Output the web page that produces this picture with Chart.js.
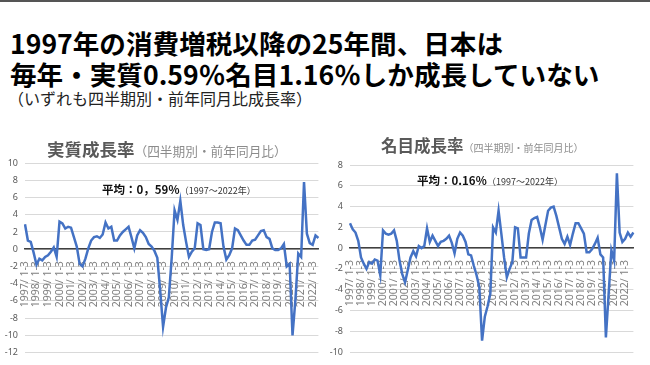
<!DOCTYPE html>
<html>
<head>
<meta charset="utf-8">
<script src="https://cdn.jsdelivr.net/npm/chart.js@4.4.0/dist/chart.umd.min.js"></script>
<style>
  body { margin: 0; width: 650px; height: 365px; background: #fff; position: relative; overflow: hidden;
         font-family: "Noto Sans CJK JP", "Noto Sans", sans-serif; }
  .topline { position: absolute; left: 0; top: 0; width: 650px; height: 2px; background: #555; }
  .headline { position: absolute; left: 10px; top: 27px; font-size: 26.6px; font-weight: bold; line-height: 31px; color: #000; white-space: nowrap; }
  .sub { position: absolute; left: 8px; top: 89px; font-size: 16px; line-height: 19px; color: #222; white-space: nowrap; }
  .ctitle { position: absolute; white-space: nowrap; color: #595959; font-weight: bold; z-index: 2; }
  .ctitle span { font-weight: normal; color: #8c8c8c; }
  .note { position: absolute; white-space: nowrap; color: #111; font-weight: bold; font-size: 11.5px; z-index: 2; }
  .note span { font-weight: normal; font-size: 9px; color: #333; }
  .box { position: absolute; }
</style>
</head>
<body>
<div class="topline"></div>
<div class="headline">1997年の消費増税以降の25年間、日本は<br>毎年・実質0.59％名目1.16％しか成長していない</div>
<div class="sub">（いずれも四半期別・前年同月比成長率）</div>

<div class="ctitle" style="left:47px; top:136px; font-size:17.5px;">実質成長率<span style="font-size:12.7px;">（四半期別・前年同月比）</span></div>
<div class="ctitle" style="left:381px; top:133px; font-size:16.5px;">名目成長率<span style="font-size:10px;">（四半期別・前年同月比）</span></div>

<div class="note" style="left:102px; top:181px;">平均：0，59％<span>（1997～2022年）</span></div>
<div class="note" style="left:417px; top:172px;">平均：0.16％<span>（1997～2022年）</span></div>

<div class="box" style="left:0; top:150px;"><canvas id="real" width="335" height="215"></canvas></div>
<div class="box" style="left:325px; top:150px;"><canvas id="nominal" width="325" height="215"></canvas></div>

<script>
const years = [1997, 1998, 1999, 2000, 2001, 2002, 2003, 2004, 2005, 2006, 2007, 2008, 2009,
  2010, 2011, 2012, 2013, 2014, 2015, 2016, 2017, 2018, 2019, 2020, 2021, 2022];
const quarters = ["1-3", "4-6", "7-9", "10-12"];

// 実質成長率 (1997/1-3 .. 2022/7-9)
const realGrowth = [
  2.9, 1.0, 0.85, -0.4,
  -1.8, -1.1, -1.3, -0.9,
  -0.7, -0.3, 0.2, -0.9,
  3.2, 3.0, 2.4, 2.6,
  2.5, 1.4, 0.3, -1.7,
  -2.0, -1.1, 0.1, 1.0,
  1.4, 1.5, 1.3, 1.7,
  3.1, 2.4, 2.6, 1.0,
  1.0, 1.6, 2.0, 2.3,
  2.6, 1.4, 0.1, 1.6,
  2.2, 1.9, 1.4, 0.6,
  0.3, -0.2, -1.0, -4.8,
  -9.0, -6.8, -5.6, -1.0,
  4.5, 3.4, 5.6, 2.8,
  0.85, -0.9, -0.3, 0.1,
  3.0, 2.8, 0.0, -0.1,
  0.0, 2.0, 3.1, 3.1,
  3.0, 0.3, -1.2, -0.7,
  0.1, 2.4, 2.2, 1.6,
  1.0, 0.5, 0.5, 1.0,
  1.1, 1.6, 2.1, 2.2,
  1.4, 1.2, 0.1, -0.1,
  -0.1, 0.1, 0.6, -2.0,
  -1.7, -10.0, -5.9, -0.5,
  -0.9, 7.8, 1.8, 0.7,
  0.5, 1.6, 1.3
];

// 名目成長率 (1997/1-3 .. 2022/10-12)
const nominalGrowth = [
  2.4, 1.8, 1.5, 0.7,
  -0.9, -1.5, -2.0, -1.35,
  -1.5, -1.1, -1.2, -2.6,
  1.7, 1.4, 1.3, 1.4,
  1.7, 0.7, -1.2, -2.5,
  -3.3, -2.1, -0.9, -0.3,
  -0.8, 0.2, 0.0, 0.2,
  1.9, 0.6, 1.2, 0.7,
  0.2, 0.6, 0.7, 0.9,
  1.2, 0.5, -0.5, 0.9,
  1.5, 1.2, 0.6, -0.6,
  -0.7, -1.7, -2.6, -3.75,
  -8.9, -6.6, -5.6, -4.4,
  2.0, 1.5, 3.6, 1.4,
  -0.9, -2.8, -2.0, -1.35,
  2.0, 1.9, -0.9, -0.9,
  -0.9, 1.4, 2.7, 2.9,
  3.0, 2.0, 0.8, 2.2,
  3.6, 3.9, 4.0, 3.1,
  2.0, 0.9, 0.4, 1.1,
  0.3, 1.4, 2.4, 2.4,
  1.9, 1.4, -0.4, -0.4,
  -0.1, 0.4, 1.0, -0.6,
  -0.9, -8.6, -4.4, -0.2,
  -1.2, 7.2, 1.5, 0.6,
  0.9, 1.5, 1.1, 1.5
];

const labels = [];
years.forEach(y => quarters.forEach(q => labels.push(y + "/ " + q)));

function options(yMin, yMax, pad) {
  return {
    responsive: false,
    animation: false,
    layout: { padding: pad },
    plugins: { legend: { display: false }, tooltip: { enabled: false } },
    scales: {
      x: {
        type: "category",
        offset: false,
        position: { y: 0 },
        grid: { display: false },
        border: { display: true, color: "#404040", width: 1.5 },
        ticks: {
          autoSkip: false,
          minRotation: 90,
          maxRotation: 90,
          padding: 4,
          color: "#7f7f7f",
          font: { size: 10.5, family: "Noto Sans, sans-serif" },
          callback: function (value, index) {
            return index % 4 === 0 ? this.getLabelForValue(value) : "";
          }
        }
      },
      y: {
        min: yMin,
        max: yMax,
        afterFit: function (scale) { scale.width = 25; },
        grid: { color: "#d9d9d9", lineWidth: 1, drawTicks: false },
        border: { display: false },
        ticks: {
          stepSize: 2,
          padding: 7,
          color: "#595959",
          font: { size: 9, family: "Noto Sans, sans-serif" }
        }
      }
    }
  };
}

const graph1 = new Chart(document.getElementById("real").getContext("2d"), {
  type: "line",
  data: {
    labels: labels.slice(0, realGrowth.length),
    datasets: [
      {
        label: "実質成長率",
        data: realGrowth,
        borderColor: "#4472C4",
        borderWidth: 2.5,
        pointRadius: 0,
        tension: 0
      }
    ]
  },
  options: options(-12, 10, { left: 0, right: 10, top: 13, bottom: 12 })
});

const graph2 = new Chart(document.getElementById("nominal").getContext("2d"), {
  type: "line",
  data: {
    labels: labels.slice(0, nominalGrowth.length),
    datasets: [
      {
        label: "名目成長率",
        data: nominalGrowth,
        borderColor: "#4472C4",
        borderWidth: 2.5,
        pointRadius: 0,
        tension: 0
      }
    ]
  },
  options: options(-10, 8, { left: 0, right: 11, top: 15, bottom: 13 })
});
</script>
</body>
</html>
